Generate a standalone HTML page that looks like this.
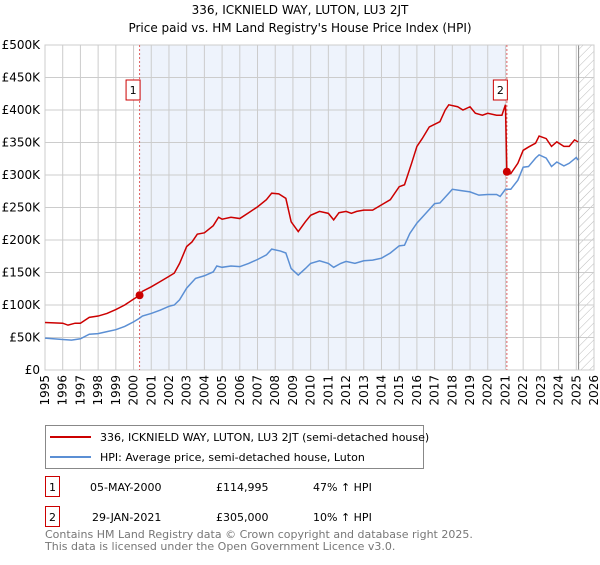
<!DOCTYPE html>
<html><head><meta charset="utf-8"><style>
body{margin:0;width:600px;height:560px;background:#fff;font-family:"Liberation Sans","DejaVu Sans",sans-serif;overflow:hidden}
svg text{font-family:"DejaVu Sans","Liberation Sans",sans-serif}
</style></head><body>
<svg id="c" width="600" height="560" xmlns="http://www.w3.org/2000/svg">
<text x="300" y="14" text-anchor="middle" font-size="12">336, ICKNIELD WAY, LUTON, LU3 2JT</text>
<text x="300" y="32" text-anchor="middle" font-size="12">Price paid vs. HM Land Registry's House Price Index (HPI)</text>
<g id="plot"></g>
<g>
<rect x="45.5" y="425.5" width="378" height="43" fill="#fff" stroke="#888"/>
<line x1="50" y1="437" x2="91" y2="437" stroke="#cc0000" stroke-width="2"/>
<text x="100" y="441" font-size="11">336, ICKNIELD WAY, LUTON, LU3 2JT (semi-detached house)</text>
<line x1="50" y1="457" x2="91" y2="457" stroke="#5b8fd4" stroke-width="2"/>
<text x="100" y="461" font-size="11">HPI: Average price, semi-detached house, Luton</text>
</g>
<g font-size="11">
<rect x="45.5" y="476.5" width="14" height="20" fill="#fff" stroke="#cc0000"/>
<text x="52.5" y="491" text-anchor="middle">1</text>
<text x="90" y="491">05-MAY-2000</text><text x="216" y="491">£114,995</text><text x="313" y="491">47% ↑ HPI</text>
<rect x="45.5" y="506.5" width="14" height="20" fill="#fff" stroke="#cc0000"/>
<text x="52.5" y="521" text-anchor="middle">2</text>
<text x="92" y="521">29-JAN-2021</text><text x="216" y="521">£305,000</text><text x="313" y="521">10% ↑ HPI</text>
</g>
<text x="45" y="538" font-size="11" fill="#777">Contains HM Land Registry data © Crown copyright and database right 2025.</text>
<text x="45" y="550" font-size="11" fill="#777">This data is licensed under the Open Government Licence v3.0.</text>
</svg>
<script>
const hpiYears=[1995,1996,1996.5,1997,1997.5,1998,1998.5,1999,1999.5,2000,2000.3,2000.5,2001,2001.5,2002,2002.3,2002.6,2003,2003.5,2004,2004.5,2004.7,2005,2005.5,2006,2006.5,2007,2007.5,2007.8,2008.3,2008.6,2008.9,2009.3,2009.7,2010,2010.5,2011,2011.3,2011.7,2012,2012.5,2013,2013.5,2014,2014.5,2015,2015.3,2015.6,2016,2016.5,2017,2017.3,2017.8,2018,2018.5,2019,2019.5,2020,2020.5,2020.7,2021,2021.3,2021.7,2022,2022.3,2022.7,2022.9,2023.3,2023.6,2023.9,2024.3,2024.6,2025,2025.1];
const hpiValues=[49,47,46,48,55,56,59,62,67,74,79,83,87,92,98,100,108,126,141,145,151,160,158,160,159,164,170,177,186,183,180,156,146,156,164,168,164,158,164,167,164,168,169,172,180,191,192,210,226,241,256,257,272,278,276,274,269,270,270,267,278,278,292,312,313,326,331,326,313,320,314,318,327,323];
const priceYears=[1995,1996,1996.3,1996.7,1997,1997.5,1998,1998.5,1999,1999.5,2000,2000.35,2000.5,2001,2001.5,2002,2002.3,2002.6,2003,2003.3,2003.6,2004,2004.5,2004.8,2005,2005.5,2006,2006.5,2007,2007.5,2007.8,2008.2,2008.6,2008.9,2009.3,2009.7,2010,2010.5,2011,2011.3,2011.6,2012,2012.3,2012.6,2013,2013.5,2014,2014.5,2015,2015.3,2015.7,2016,2016.3,2016.7,2017,2017.3,2017.6,2017.8,2018.3,2018.6,2019,2019.3,2019.7,2020,2020.5,2020.8,2021.0,2021.08,2021.3,2021.7,2022,2022.3,2022.7,2022.9,2023.3,2023.6,2023.9,2024.3,2024.6,2024.9,2025.1];
const priceValues=[73,72,69,72,72,81,83,87,93,100,109,115,121,128,136,144,149,164,190,197,209,211,222,235,232,235,233,242,251,262,272,271,264,228,213,228,238,244,241,231,242,244,241,244,246,246,254,262,282,285,318,344,356,374,378,382,400,408,405,400,405,395,392,395,392,392,408,305,302,318,338,343,349,360,356,344,351,344,344,354,351];
const saleYears=[2000.34,2021.08];
const saleValues=[115,305];
const saleLabels=["1","2"];
const yTicks=[0,50,100,150,200,250,300,350,400,450,500];
const yTickLabels=["£0","£50K","£100K","£150K","£200K","£250K","£300K","£350K","£400K","£450K","£500K"];
const xTicks=[1995,1996,1997,1998,1999,2000,2001,2002,2003,2004,2005,2006,2007,2008,2009,2010,2011,2012,2013,2014,2015,2016,2017,2018,2019,2020,2021,2022,2023,2024,2025,2026];

const NS="http://www.w3.org/2000/svg";
const L=45,R=594,T=45,B=370;
const xs=y=>L+(y-1995)*(R-L)/31;
const ys=v=>B-v*(B-T)/500;
const g=document.getElementById('plot');
function mk(t,a,p){const e=document.createElementNS(NS,t);for(const k in a)e.setAttribute(k,a[k]);(p||g).appendChild(e);return e;}
// shading
let sh=mk('rect',{x:xs(saleYears[0]),y:T,width:xs(saleYears[1])-xs(saleYears[0]),height:B-T,fill:'#eef3fc'});


// hatch
const defs=mk('defs',{});
const pat=mk('pattern',{id:'h',width:6,height:6,patternUnits:'userSpaceOnUse',patternTransform:'rotate(45)'},defs);
mk('line',{x1:0,y1:0,x2:0,y2:6,stroke:'#bbb','stroke-width':1},pat);
let ht=mk('rect',{x:xs(2025.13),y:T,width:R-xs(2025.13),height:B-T,fill:'url(#h)'});


// grid
yTicks.forEach((v,i)=>{
 mk('line',{x1:L,x2:R,y1:ys(v),y2:ys(v),stroke:'#ccc'});
 const t=mk('text',{x:L-5,y:ys(v)+4,'text-anchor':'end','font-size':12});t.textContent=yTickLabels[i];
 
 
});
xTicks.forEach(y=>{
 mk('line',{x1:xs(y),x2:xs(y),y1:T,y2:B,stroke:'#ccc'});
 const t=mk('text',{x:0,y:0,'text-anchor':'end','font-size':12,transform:`translate(${xs(y)+4},${B+5}) rotate(-90)`});t.textContent=y;
 
 
});
mk('line',{x1:xs(2025.13),x2:xs(2025.13),y1:T,y2:B,stroke:'#888'});
mk('rect',{x:L,y:T,width:R-L,height:B-T,fill:'none',stroke:'#ccc'});
saleYears.forEach(y=>mk('line',{x1:xs(y),x2:xs(y),y1:T,y2:B,stroke:'#e06060','stroke-dasharray':'2,2'}));
function line(xa,va,c,n){const p=mk('polyline',{points:xa.map((x,i)=>xs(x)+','+ys(va[i])).join(' '),fill:'none',stroke:c,'stroke-width':1.5});
 
 }
line(hpiYears,hpiValues,'#5b8fd4','hpi-line');
line(priceYears,priceValues,'#cc0000','price-paid-line');
saleYears.forEach((y,i)=>{
 const c=mk('circle',{cx:xs(y),cy:ys(saleValues[i]),r:4,fill:'#cc0000'});
 
 
 const b=mk('rect',{x:xs(y)-13.5,y:80,width:14,height:20,fill:'#fff',stroke:'#cc0000'});
 
 
 const t=mk('text',{x:xs(y)-6.5,y:94,'text-anchor':'middle','font-size':11});t.textContent=saleLabels[i];
});
</script>
</body></html>
